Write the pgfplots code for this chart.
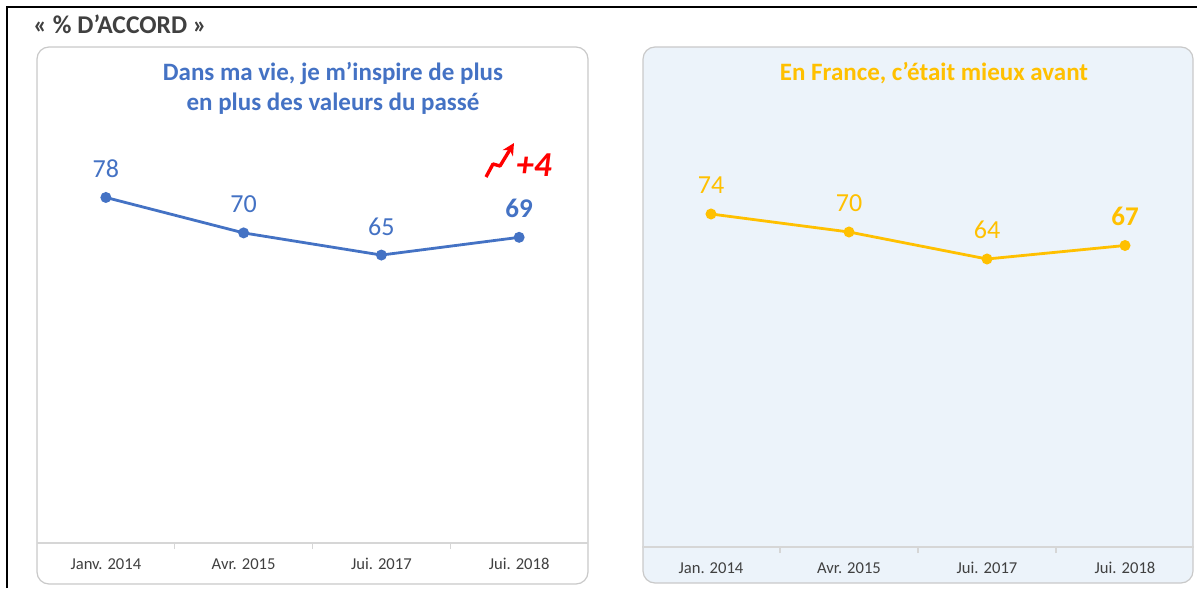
\documentclass[border=0pt]{standalone}
\usepackage{fontspec}
\setmainfont{Carlito}
\usepackage{pgfplots}
\pgfplotsset{compat=1.18}
\usetikzlibrary{arrows.meta}

\definecolor{ofblue}{HTML}{4472C4}
\definecolor{ofgold}{HTML}{FFC000}
\definecolor{txtgray}{HTML}{404040}
\definecolor{panelline}{HTML}{C9C9C9}
\definecolor{panelfill}{HTML}{ECF3FA}
\definecolor{axisline}{HTML}{D6D6D6}

% shared look of the two small line charts
\pgfplotsset{
  panel/.style={
    scale only axis, clip=false,
    xmin=-0.5, xmax=3.5, ymin=0, ymax=100,
    axis x line=bottom, axis y line=none,
    axis line style={draw=axisline, line width=0.6pt, -},
    xtick={0,1,2,3}, major tick length=0pt,
    minor xtick={0.5,1.5,2.5}, minor tick length=3pt,
    tick align=outside, tick style={draw=axisline, line width=0.6pt},
    xticklabel style={font=\fontsize{8.3}{9}\selectfont, text=txtgray, anchor=base, yshift=-13pt},
    /pgf/number format/assume math mode=true,
    every node near coord/.append style={font=\fontsize{13}{14}\selectfont, anchor=base, inner sep=0pt, yshift=10pt},
  },
}

\begin{document}
\begin{tikzpicture}
\useasboundingbox (0,0) rectangle (598.5pt,-294pt);
% outer frame (only top and left visible)
\draw[black, line width=1pt] (3.5pt,-294pt) -- (3.5pt,-3.5pt) -- (598.5pt,-3.5pt);
\node[anchor=west, inner sep=0pt, text=txtgray, font=\bfseries\fontsize{12.8}{14}\selectfont] at (16.5pt,-12pt) {« \% D’ACCORD »};

% panels
\draw[panelline, line width=0.6pt, fill=white, rounded corners=6pt] (18.5pt,-23.5pt) rectangle (294pt,-292pt);
\draw[panelline, line width=0.6pt, fill=panelfill, rounded corners=6pt] (321.5pt,-23.5pt) rectangle (596.5pt,-291.5pt);

\node[align=center, text=ofblue, font=\bfseries\fontsize{12.5}{15}\selectfont] at (166.5pt,-44pt)
  {Dans ma vie, je m’inspire de plus\\en plus des valeurs du passé};
\node[text=ofgold, font=\bfseries\fontsize{12.5}{14}\selectfont] at (467pt,-36.5pt)
  {En France, c’était mieux avant};

% left chart
\begin{axis}[panel, anchor=south west, at={(18.5pt,-271.5pt)}, width=275.5pt, height=221.5pt,
  xticklabels={Janv. 2014, Avr. 2015, Jui. 2017, Jui. 2018}]
\addplot[ofblue, line width=1.4pt, mark=*, mark size=2pt] coordinates {(0,78) (1,70) (2,65) (3,69)};
\addplot[draw=none, nodes near coords, every node near coord/.append style={text=ofblue}] coordinates {(0,78) (1,70) (2,65)};
\addplot[draw=none, nodes near coords, every node near coord/.append style={text=ofblue, font=\bfseries\fontsize{13.5}{14}\selectfont}] coordinates {(3,69)};
\end{axis}

% right chart
\begin{axis}[panel, anchor=south west, at={(321pt,-273.5pt)}, width=276pt, height=225pt,
  xticklabels={Jan. 2014, Avr. 2015, Jui. 2017, Jui. 2018}]
\addplot[ofgold, line width=1.4pt, mark=*, mark size=2pt] coordinates {(0,74) (1,70) (2,64) (3,67)};
\addplot[draw=none, nodes near coords, every node near coord/.append style={text=ofgold}] coordinates {(0,74) (1,70) (2,64)};
\addplot[draw=none, nodes near coords, every node near coord/.append style={text=ofgold, font=\bfseries\fontsize{13.5}{14}\selectfont}] coordinates {(3,67)};
\end{axis}

% trend badge
\draw[red, line width=1.7pt, -{Stealth[length=6pt,width=6pt]}, line join=round]
  (243pt,-88.5pt) -- (246.5pt,-82pt) -- (250pt,-83pt) -- (257pt,-71.5pt);
\node[anchor=west, inner sep=0pt, text=red, font=\bfseries\itshape\fontsize{17.5}{18}\selectfont] at (258pt,-82.5pt) {+4};
\end{tikzpicture}
\end{document}
